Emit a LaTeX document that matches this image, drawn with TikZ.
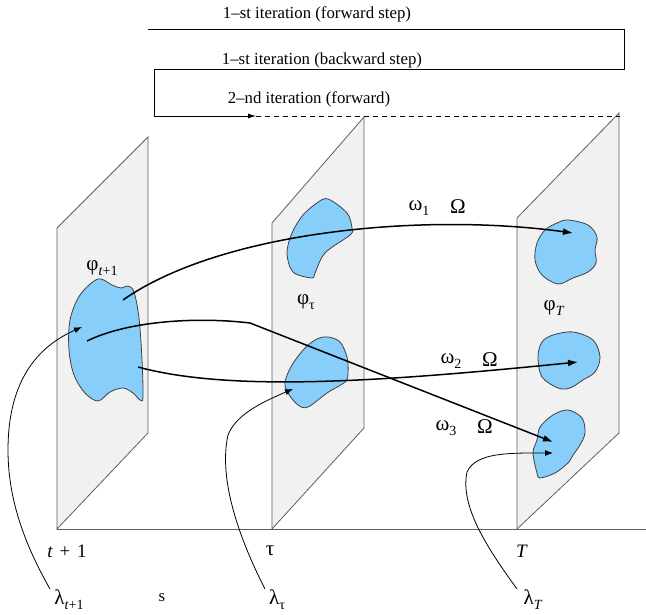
\documentclass[tikz,border=0pt]{standalone}
\usepackage{fontspec}
\setmainfont{Liberation Serif}
\usetikzlibrary{arrows.meta}
\newcommand{\lsub}[1]{\raisebox{-0.5ex}{\fontsize{14}{14}\selectfont #1}}
\definecolor{blobblue}{RGB}{135,206,250}
\definecolor{planegray}{RGB}{241,241,241}
\definecolor{planeedge}{RGB}{95,95,95}
\begin{document}
\begin{tikzpicture}[x=1pt,y=-1pt,
  plane/.style={fill=planegray,draw=planeedge,line width=0.8pt},
  blob/.style={fill=blobblue,draw=black!75,line width=0.8pt},
  flow/.style={line width=1.5pt,-{Latex[length=10pt,width=7pt]}},
  lam/.style={line width=0.8pt,-{Latex[length=8pt,width=6pt]}},
  iter/.style={line width=0.8pt},
  txt/.style={font=\fontsize{16.8}{16.8}\selectfont,inner sep=0pt},
  gk/.style={font=\fontsize{21}{21}\selectfont,inner sep=0pt}]
\useasboundingbox[fill=white] (0,0) rectangle (646,615);

% planes
\draw[plane] (57,529) -- (57,228) -- (148,137) -- (148,433) -- cycle;
\draw[plane] (272,529) -- (272,223) -- (364,117) -- (364,428) -- cycle;
\draw[plane] (517,529) -- (517,218) -- (619,113) -- (619,433) -- cycle;
% axis
\draw[planeedge,line width=0.8pt] (57,529) -- (646,529);

% iteration lines
\coordinate (f1a) at (148,29);
\coordinate (f1b) at (624,29);
\coordinate (b1a) at (624,69);
\coordinate (b1b) at (154,69);
\coordinate (n2a) at (154,116);
\coordinate (n2b) at (256,116);
\coordinate (n2c) at (620,116);
\draw[iter] (f1a) -- (f1b) -- (b1a) -- (b1b) -- (n2a);
\draw[iter,-{Latex[length=8pt,width=5pt]}] (n2a) -- (n2b);
\draw[iter,dashed,dash pattern=on 5pt off 4pt] (n2b) -- (n2c);
\node[txt] (t1) at (317,14) {1–st iteration (forward step)};
\node[txt] (t2) at (322,60) {1–st iteration (backward step)};
\node[txt] (t3) at (309,99) {2–nd iteration (forward)};

% blobs
\draw[blob] plot[smooth cycle,tension=0.55] coordinates {(98,279) (112,285) (121,288) (128,286) (134,292) (139,318) (142,360) (143,397) (140,400) (133,393) (123,388) (110,392) (98,401) (85,393) (74,375) (69,350) (70,320) (80,295)};
\draw[blob] plot[smooth cycle,tension=0.55] coordinates {(328,199) (347,213) (352,228) (350,235) (325,253) (315,273) (312,278) (293,272) (287,253) (292,233) (303,215) (317,203)};
\draw[blob] plot[smooth cycle,tension=0.55] coordinates {(328,337) (340,342) (347,357) (348,373) (345,382) (327,393) (308,407) (298,405) (288,393) (285,382) (292,365) (305,348) (317,339)};
\draw[blob] plot[smooth cycle,tension=0.55] coordinates {(568,220) (588,225) (597,237) (595,250) (596,263) (588,272) (573,278) (558,284) (542,275) (535,260) (537,243) (545,230) (557,223)};
\draw[blob] plot[smooth cycle,tension=0.55] coordinates {(573,332) (593,340) (600,357) (595,372) (583,380) (570,388) (558,388) (542,377) (538,357) (542,342) (553,335)};
\draw[blob] plot[smooth cycle,tension=0.55] coordinates {(568,410) (582,418) (585,433) (580,445) (573,455) (568,463) (555,473) (540,478) (537,473) (533,453) (537,440) (540,427) (553,415)};

% flow arrows
\coordinate (a1s) at (123,300);
\coordinate (a1e) at (573,233);
\coordinate (a2s) at (138,367);
\coordinate (a2e) at (578,362);
\coordinate (a3s) at (87,341);
\coordinate (a3k) at (250,323);
\coordinate (a3e) at (553,442);
\draw[flow] (a1s) .. controls (220,232) and (420,212) .. (a1e);
\draw[flow] (a2s) .. controls (230,392) and (380,382) .. (a2e);
\draw[flow] (a3s) .. controls (130,320) and (200,317) .. (a3k) -- (a3e);

% lambda curves
\coordinate (l1s) at (50,589);
\coordinate (l1m) at (8,450);
\coordinate (l1e) at (82,327);
\coordinate (l2s) at (265,589);
\coordinate (l2m) at (228,435);
\coordinate (l2e) at (293,389);
\coordinate (l3s) at (517,589);
\coordinate (l3m) at (467,472);
\coordinate (l3e) at (553,453);
\draw[lam] (l1s) .. controls (25,545) and (8,500) .. (l1m) .. controls (8,390) and (30,350) .. (l1e);
\draw[lam] (l2s) .. controls (240,540) and (218,480) .. (l2m) .. controls (236,415) and (260,403) .. (l2e);
\draw[lam] (l3s) .. controls (485,545) and (460,505) .. (l3m) .. controls (476,452) and (510,453) .. (l3e);

% labels
\node[gk] (phi1) at (102,268) {φ\lsub{\textit{t}+1}};
\node[gk] (phi2) at (306,302) {φ\lsub{τ}};
\node[gk] (phi3) at (554,308) {φ\lsub{\textit{T}}};
\node[gk] (w1) at (419,208) {ω\lsub{1}};
\node[gk] (O1) at (458,207) {Ω};
\node[gk] (w2) at (451,361) {ω\lsub{2}};
\node[gk] (O2) at (490,360) {Ω};
\node[gk] (w3) at (446,428) {ω\lsub{3}};
\node[gk] (O3) at (485,427) {Ω};
\node[txt] (ax1) at (67,551) {\fontsize{19}{19}\selectfont\textit{t}\hspace{0.35em}+\hspace{0.35em}1};
\node[gk] (ax2) at (270,551) {τ};
\node[txt] (ax3) at (522,551) {\fontsize{19}{19}\selectfont\textit{T}};
\node[gk] (lm1) at (69,600) {λ\lsub{\textit{t}+1}};
\node[txt] (sl) at (162,598) {s};
\node[gk] (lm2) at (277,600) {λ\lsub{τ}};
\node[gk] (lm3) at (533,600) {λ\lsub{\textit{T}}};
\end{tikzpicture}
\end{document}
